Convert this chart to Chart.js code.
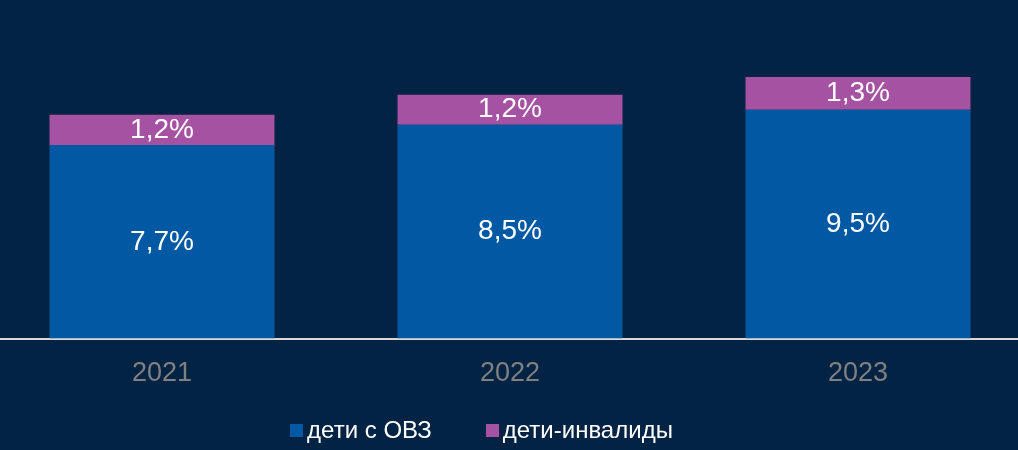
<!DOCTYPE html>
<html lang="ru">
<head>
<meta charset="utf-8">
<script src="https://cdn.jsdelivr.net/npm/chart.js@4/dist/chart.umd.min.js"></script>
<style>
    html, body { margin: 0; padding: 0; background: #022343; overflow: hidden; }
    body { width: 1018px; height: 450px; position: relative; font-family: "Liberation Sans", Arial, sans-serif; }
    #wrap { position: absolute; left: -12px; top: 0; width: 1044px; height: 450px; }
    #legend { position: absolute; left: 0; top: 416px; width: 963px; height: 28px;
        display: flex; justify-content: center; align-items: center; gap: 54px; }
    .item { display: flex; align-items: center; color: #ffffff; font-size: 24px; }
    .box { width: 13px; height: 13px; margin-right: 4px; }
</style>
</head>
<body>
<div id="wrap"><canvas id="chart"></canvas></div>
<div id="legend"></div>
<script>
// ===== данные =====
var years = ["2021", "2022", "2023"];
var seriesNames = ["дети с ОВЗ", "дети-инвалиды"];
// высоты столбцов, как они нарисованы (в %)
var ovzValues = [7.7, 8.5, 9.1];
var invalidValues = [1.2, 1.2, 1.3];
// подписи на столбцах
var ovzLabels = ["7,7%", "8,5%", "9,5%"];
var invalidLabels = ["1,2%", "1,2%", "1,3%"];

var colors = ["#0059a2", "#a452a1"];

// подписи в центре сегментов
const barLabels = {
    id: "barLabels",
    afterDatasetsDraw(chart) {
        const ctx = chart.ctx;
        ctx.save();
        ctx.font = "28px 'Liberation Sans', Arial, sans-serif";
        ctx.fillStyle = "#ffffff";
        ctx.textAlign = "center";
        ctx.textBaseline = "middle";
        chart.data.datasets.forEach(function (ds, i) {
            chart.getDatasetMeta(i).data.forEach(function (bar, j) {
                ctx.fillText(ds.valueLabels[j], bar.x, (bar.y + bar.base) / 2);
            });
        });
        ctx.restore();
    }
};

const chart = new Chart(document.getElementById("chart"), {
    type: "bar",
    data: {
        labels: years,
        datasets: [{
            label: seriesNames[0],
            data: ovzValues,
            valueLabels: ovzLabels,
            backgroundColor: colors[0]
        }, {
            label: seriesNames[1],
            data: invalidValues,
            valueLabels: invalidLabels,
            backgroundColor: colors[1]
        }]
    },
    options: {
        responsive: true,
        maintainAspectRatio: false,
        animation: false,
        layout: { padding: { top: 62, bottom: 49, left: 0, right: 0 } },
        datasets: { bar: { categoryPercentage: 1, barPercentage: 0.6466 } },
        scales: {
            x: {
                stacked: true,
                grid: { display: false },
                border: { display: true, color: "#d9d9d9", width: 2 },
                ticks: {
                    color: "#808080",
                    padding: 11,
                    font: { family: "'Liberation Sans', Arial, sans-serif", size: 27 }
                }
            },
            y: {
                stacked: true,
                display: false,
                min: 0,
                max: 11
            }
        },
        plugins: {
            legend: { display: false },
            tooltip: { enabled: false }
        }
    },
    plugins: [barLabels]
});

// легенда
const legend = document.getElementById("legend");
chart.data.datasets.forEach(function (ds) {
    const item = document.createElement("div");
    item.className = "item";
    item.innerHTML = `<span class="box" style="background:${ds.backgroundColor}"></span><span>${ds.label}</span>`;
    legend.appendChild(item);
});
</script>
</body>
</html>
